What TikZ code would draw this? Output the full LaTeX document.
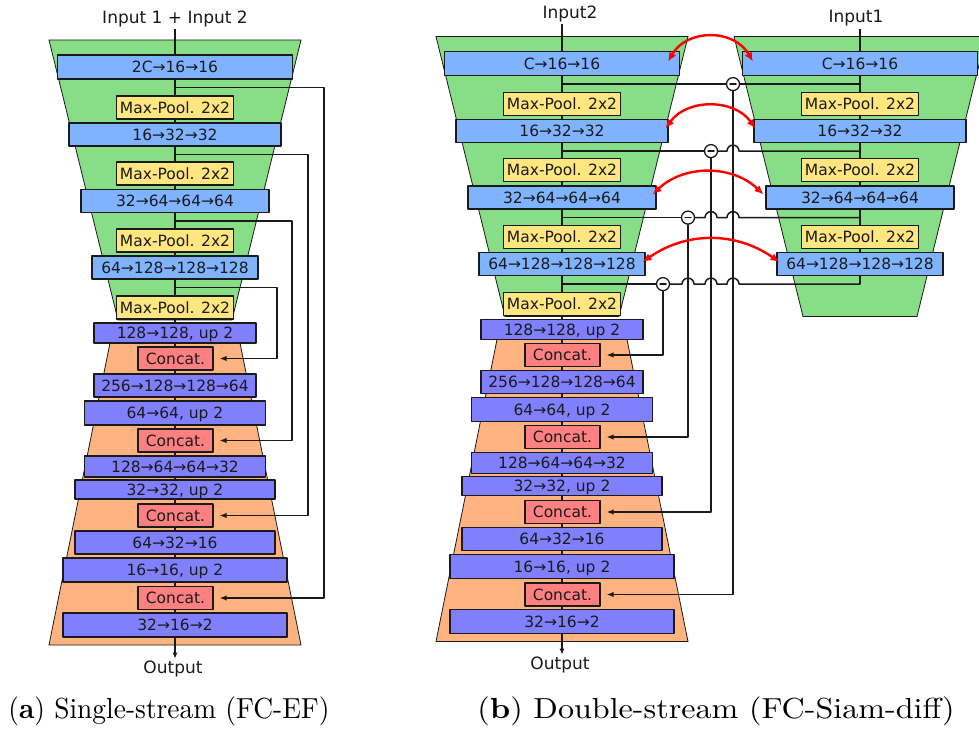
\documentclass[tikz,border=0pt]{standalone}
\usepackage{fontspec}
\newfontfamily\diagfont{DejaVu Sans}
\newfontfamily\capfont{lmroman10-regular}[Extension=.otf, BoldFont=lmroman10-bold]
\usetikzlibrary{arrows.meta,calc,backgrounds}
\definecolor{encblue}{HTML}{80B3FF}
\definecolor{poolyellow}{HTML}{FFE680}
\definecolor{decpurple}{HTML}{8080FF}
\definecolor{catred}{HTML}{FF8080}
\definecolor{encgreen}{HTML}{87DE87}
\definecolor{decorange}{HTML}{FFB380}
\definecolor{inkline}{HTML}{1A1A1A}
\tikzset{
  every picture/.style={
    line join=round,
    line cap=round,
  },
  blk/.style={draw=inkline, line width=1.2pt, inner sep=0pt, text=inkline,
    text height=11.3pt, text depth=0pt, font=\diagfont\fontsize{15.5}{17}\selectfont},
  encbox/.style={blk, fill=encblue, minimum height=23},
  poolbox/.style={blk, fill=poolyellow, minimum width=117, minimum height=23},
  decbox/.style={blk, fill=decpurple},
  catbox/.style={blk, fill=catred, minimum width=75, minimum height=23},
  greenbody/.style={fill=encgreen, draw=inkline, line width=0.8pt},
  orangebody/.style={fill=decorange, draw=inkline, line width=0.8pt},
  iolabel/.style={font=\diagfont\fontsize{17}{19}\selectfont, text=inkline, inner sep=2pt},
  trunk/.style={draw=inkline, line width=1.3pt},
  skip/.style={draw=inkline, line width=1.5pt, -{Latex[length=7pt,width=5.5pt]}},
  link/.style={draw=inkline, line width=1.5pt},
  minus/.style={circle, draw=inkline, fill=white, line width=1.3pt, minimum size=13pt, inner sep=0pt,
    path picture={\draw[inkline, line width=1.5pt] ([xshift=-3pt]path picture bounding box.center) -- ([xshift=3pt]path picture bounding box.center);}},
  siam/.style={draw=red, line width=2.4pt, {Latex[length=9pt,width=8pt]}-{Latex[length=9pt,width=8pt]}},
  caption/.style={font=\capfont\fontsize{29}{32}\selectfont, anchor=base, inner sep=0pt},
}

% contracting part: #1 name prefix, #2 first block
\newcommand{\encstream}[2]{%
  \node[encbox, minimum width=235, minimum height=24] (#1e1) at (0,67) {#2};
  \foreach \k/\y/\w/\lab in {2/134.5/212/{16→32→32}, 3/201/188/{32→64→64→64}, 4/267.5/166/{64→128→128→128}}
    \node[encbox, minimum width=\w] (#1e\k) at (0,\y) {\lab};
  \foreach \k/\y in {1/107.5, 2/173.5, 3/240.5}
    \node[poolbox] (#1p\k) at (0,\y) {Max-Pool. 2x2};
  \begin{scope}[on background layer]
    \filldraw[greenbody] (-126,40) -- (126,40) -- (57,320) -- (-57,320) -- cycle;
  \end{scope}
}
% expanding part
\newcommand{\decstream}[1]{%
  \node[poolbox] (#1p4) at (0,307.5) {Max-Pool. 2x2};
  \foreach \k/\y/\w/\h/\lab in {1/333/162/20/{128→128, up 2}, 2/385.5/162/23/{256→128→128→64},
      3/413/181/24/{64→64, up 2}, 4/466.5/181/21/{128→64→64→32}, 5/489.5/200/19/{32→32, up 2},
      6/542.5/200/23/{64→32→16}, 7/570/224/24/{16→16, up 2}, 8/625/224/24/{32→16→2}}
    \node[decbox, minimum width=\w, minimum height=\h] (#1d\k) at (0,\y) {\lab};
  \foreach \k/\y in {1/358.5, 2/440.5, 3/515.5, 4/598}
    \node[catbox] (#1c\k) at (0.5,\y) {Concat.};
  \begin{scope}[on background layer]
    \filldraw[orangebody] (-65,343) -- (65,343) -- (126,645) -- (-126,645) -- cycle;
  \end{scope}
}

\begin{document}
\begin{tikzpicture}[x=1pt,y=-1pt]
\useasboundingbox (0,0) rectangle (979,735);

% (a) early fusion
\begin{scope}[shift={(175,0)}]
  \encstream{A}{2C→16→16}
  \decstream{A}
  \node[iolabel] (Ain) at (0,19) {Input 1 + Input 2};
  \node[iolabel] (Aout) at (-2,669) {Output};
  \begin{scope}[on background layer]
    \draw[trunk, -{Latex[length=6pt,width=5pt]}] (Ae1 |- Ain.south) -- (Ae1 |- Aout.north);
  \end{scope}
\end{scope}

% (b) siamese, second image stream with decoder
\begin{scope}[shift={(562,-3.5)}]
  \encstream{L}{C→16→16}
  \decstream{L}
  \node[iolabel] (Lin) at (8,17) {Input2};
  \node[iolabel] (Lout) at (-2,668.5) {Output};
  \begin{scope}[on background layer]
    \draw[trunk, -{Latex[length=6pt,width=5pt]}] (Le1 |- Lin.south) -- (Le1 |- Lout.north);
  \end{scope}
\end{scope}

% (b) first image stream, encoder only
\begin{scope}[shift={(860,-3.5)}]
  \encstream{R}{C→16→16}
  \node[iolabel] (Rin) at (-4,22) {Input1};
  \begin{scope}[on background layer]
    \draw[trunk] (Re1 |- Rin.south) -- ($(Re4.south)+(0,8)$);
  \end{scope}
\end{scope}

% skip connections of (a)
\draw[skip] ($(Ae1.south)+(0,8)$) -- ++(149,0) |- ([xshift=6pt]Ac4.east);
\draw[skip] ($(Ae2.south)+(0,8)$) -- ++(133,0) |- ([xshift=6pt]Ac3.east);
\draw[skip] ($(Ae3.south)+(0,8)$) -- ++(117,0) |- ([xshift=6pt]Ac2.east);
\draw[skip] ($(Ae4.south)+(0,8)$) -- ++(102,0) |- ([xshift=6pt]Ac1.east);

% differences of (b)
\node[minus] (m1) at ($(Le1.south)+(171,8)$) {};
\node[minus] (m2) at ($(Le2.south)+(149,8)$) {};
\node[minus] (m3) at ($(Le3.south)+(126,8)$) {};
\node[minus] (m4) at ($(Le4.south)+(101,8)$) {};
\foreach \k in {1,2,3,4}
  \draw[link] ($(Le\k.south)+(0,8)$) -- (m\k);
\draw[link] ($(Re1.south)+(0,8)$) -- (m1);
\draw[link] ($(Re2.south)+(0,8)$) -- ($(m1 |- m2)+(6,0)$) arc[start angle=0,end angle=180,radius=6pt] -- (m2);
\draw[link] ($(Re3.south)+(0,8)$) -- ($(m1 |- m3)+(6,0)$) arc[start angle=0,end angle=180,radius=6pt]
  -- ($(m2 |- m3)+(6,0)$) arc[start angle=0,end angle=180,radius=6pt] -- (m3);
\draw[link] ($(Re4.south)+(0,8)$) -- ($(m1 |- m4)+(6,0)$) arc[start angle=0,end angle=180,radius=6pt]
  -- ($(m2 |- m4)+(6,0)$) arc[start angle=0,end angle=180,radius=6pt]
  -- ($(m3 |- m4)+(6,0)$) arc[start angle=0,end angle=180,radius=6pt] -- (m4);
\draw[skip] (m1) |- ([xshift=6pt]Lc4.east);
\draw[skip] (m2) |- ([xshift=6pt]Lc3.east);
\draw[skip] (m3) |- ([xshift=6pt]Lc2.east);
\draw[skip] (m4) |- ([xshift=6pt]Lc1.east);

% shared weights
\draw[siam] ([xshift=-12pt,yshift=2pt]Le1.east) to[bend left=60, looseness=1.15] ([xshift=11pt,yshift=2pt]Re1.west);
\draw[siam] ([xshift=-3pt,yshift=2.5pt]Le2.east) to[bend left=55, looseness=1.05] ([xshift=2pt,yshift=2.5pt]Re2.west);
\draw[siam] ([xshift=-4pt,yshift=3pt]Le3.east) to[bend left=44] ([xshift=-2pt,yshift=3pt]Re3.west);
\draw[siam] ([xshift=-3pt,yshift=2pt]Le4.east) to[bend left=35] ([xshift=3pt,yshift=2pt]Re4.west);

\node[caption] (capa) at (169,718) {\scalebox{0.947}[1]{(\textbf{a}) Single-stream (FC-EF)}};
\node[caption] (capb) at (716,718) {\scalebox{1.107}[1]{(\textbf{b}) Double-stream (FC-Siam-diff)}};
\end{tikzpicture}
\end{document}
